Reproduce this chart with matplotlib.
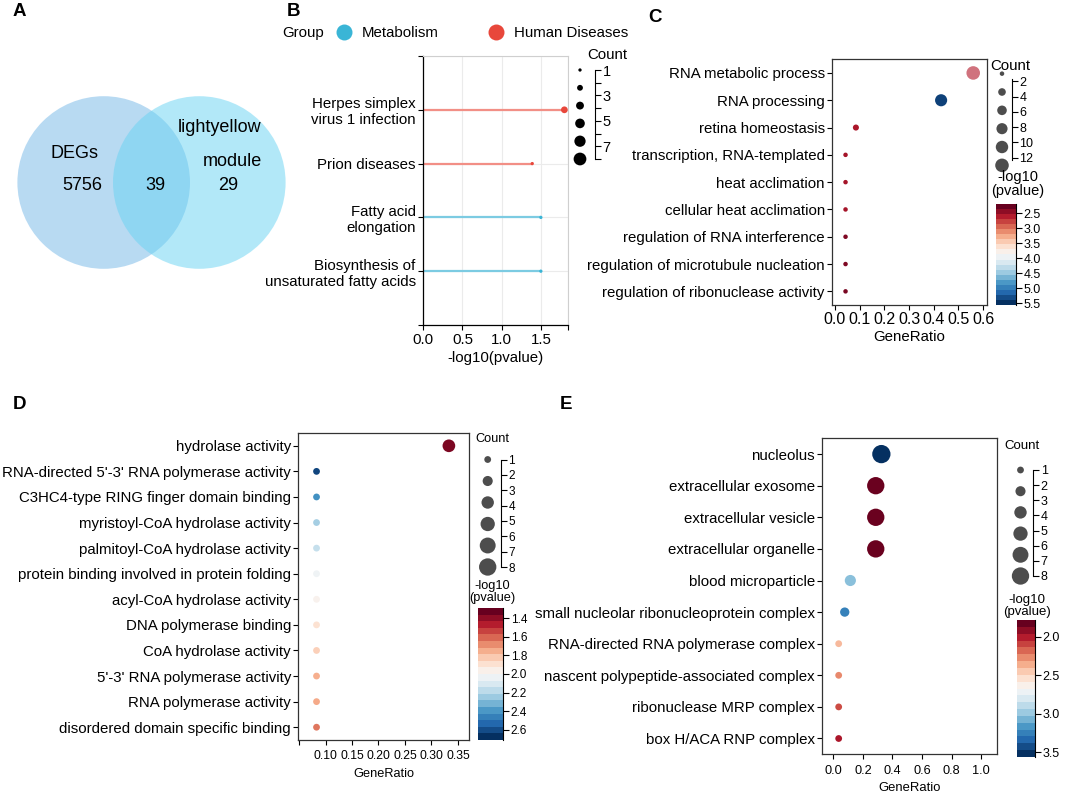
import numpy as np
import matplotlib
matplotlib.use('Agg')
import matplotlib.pyplot as plt
from matplotlib.patches import Circle
from matplotlib.lines import Line2D
from matplotlib.colors import Normalize
from matplotlib.cm import ScalarMappable

plt.rcParams['font.family'] = ['Liberation Sans', 'DejaVu Sans']

W, H = 1065, 794

# ---- A: Venn ----
venn_names = ['DEGs', 'lightyellow', 'module']
venn_counts = [5756, 39, 29]   # DEGs only, shared, module only

# ---- B: KEGG lollipop ----
kegg_terms = ['Herpes simplex\nvirus 1 infection', 'Prion diseases',
              'Fatty acid\nelongation', 'Biosynthesis of\nunsaturated fatty acids']
kegg_logp = [1.80, 1.39, 1.50, 1.50]
kegg_count = [3, 1, 1, 1]
kegg_group = ['Human Diseases', 'Human Diseases', 'Metabolism', 'Metabolism']
groups = ['Metabolism', 'Human Diseases']

# ---- C: GO BP ----
bp_terms = ['RNA metabolic process', 'RNA processing', 'retina homeostasis',
            'transcription, RNA-templated', 'heat acclimation', 'cellular heat acclimation',
            'regulation of RNA interference', 'regulation of microtubule nucleation',
            'regulation of ribonuclease activity']
bp_ratio = [0.56, 0.43, 0.085, 0.043, 0.043, 0.043, 0.043, 0.043, 0.043]
bp_count = [13, 10, 2, 1, 1, 1, 1, 1, 1]
bp_logp = [2.55, 5.45, 2.50, 2.47, 2.47, 2.47, 2.30, 2.30, 2.28]
bp_alpha = [0.62, 1, 1, 1, 1, 1, 1, 1, 1]

# ---- D: GO MF ----
mf_terms = ['hydrolase activity', "RNA-directed 5'-3' RNA polymerase activity",
            'C3HC4-type RING finger domain binding', 'myristoyl-CoA hydrolase activity',
            'palmitoyl-CoA hydrolase activity', 'protein binding involved in protein folding',
            'acyl-CoA hydrolase activity', 'DNA polymerase binding', 'CoA hydrolase activity',
            "5'-3' RNA polymerase activity", 'RNA polymerase activity',
            'disordered domain specific binding']
mf_ratio = [0.333, 0.083, 0.083, 0.083, 0.083, 0.083, 0.083, 0.083, 0.083, 0.083, 0.083, 0.083]
mf_count = [4, 1, 1, 1, 1, 1, 1, 1, 1, 1, 1, 1]
mf_logp = [1.33, 2.65, 2.43, 2.24, 2.17, 2.03, 1.97, 1.89, 1.83, 1.74, 1.73, 1.62]

# ---- E: GO CC ----
cc_terms = ['nucleolus', 'extracellular exosome', 'extracellular vesicle',
            'extracellular organelle', 'blood microparticle',
            'small nucleolar ribonucleoprotein complex', 'RNA-directed RNA polymerase complex',
            'nascent polypeptide-associated complex', 'ribonuclease MRP complex',
            'box H/ACA RNP complex']
cc_ratio = [0.325, 0.287, 0.287, 0.287, 0.115, 0.077, 0.036, 0.036, 0.036, 0.036]
cc_count = [9, 8, 8, 8, 3, 2, 1, 1, 1, 1]
cc_logp = [3.58, 1.79, 1.79, 1.79, 3.04, 3.27, 2.38, 2.24, 2.09, 1.94]


fig = plt.figure(figsize=(W / 100, H / 100), dpi=100)


def rect(x0, y0, x1, y1):
    # pixel box (top-left origin) -> figure fraction
    return [x0 / W, 1 - y1 / H, (x1 - x0) / W, (y1 - y0) / H]


def ftext(x, y, s, **kw):
    fig.text(x / W, 1 - y / H, s, **kw)


def dot_area(count, d1, p):
    # marker area in pt^2 for a dot d1*count**p pixels wide
    return (0.72 * d1 * np.asarray(count, float) ** p) ** 2


def dot_panel(box, terms, ratio, count, logp, norm, d1, p, xlim, xticks, xlabels, xfs, labfs,
              tpad=1.5, lpad=2, alpha=None):
    ax = fig.add_axes(rect(*box))
    y = np.arange(len(terms), 0, -1)
    ax.scatter(ratio, y, s=dot_area(count, d1, p), c=logp, cmap='RdBu', norm=norm,
               alpha=alpha, linewidths=0, zorder=3, clip_on=False)
    ax.set_xlim(*xlim)
    ax.set_ylim(0.5, len(terms) + 0.5)
    ax.set_yticks(y)
    ax.set_yticklabels(terms, fontsize=10.8)
    ax.set_xticks(xticks)
    ax.set_xticklabels(xlabels, fontsize=xfs)
    ax.set_xlabel('GeneRatio', fontsize=labfs, labelpad=lpad)
    ax.tick_params(length=3.5, width=0.8, pad=1.5)
    ax.tick_params(axis='x', pad=tpad)
    for s in ax.spines.values():
        s.set_linewidth(0.9)
        s.set_color('#333333')
    return ax


def count_legend(dot_x, line_x, y_top, y_bot, lim, keys, ticks, labels, d1, p,
                 color, title_xy, tfs, lfs):
    lax = fig.add_axes(rect(dot_x - 15, y_top, line_x, y_bot))
    lax.set_xlim(0, 1)
    lax.set_ylim(lim[1], lim[0])
    kx = 15 / (line_x - dot_x + 15)
    lax.scatter(np.full(len(keys), kx), keys, s=dot_area(keys, d1, p), color=color,
                linewidths=0, clip_on=False)
    for side in ['left', 'top', 'bottom']:
        lax.spines[side].set_visible(False)
    lax.spines['right'].set_linewidth(0.8)
    lax.patch.set_visible(False)
    lax.set_xticks([])
    lax.yaxis.tick_right()
    lax.set_yticks(ticks)
    lax.set_yticklabels(labels, fontsize=lfs)
    lax.tick_params(axis='y', length=4, width=0.8, pad=1.5)
    ftext(*title_xy, 'Count', ha='center', va='center', fontsize=tfs)


def color_bar(box, norm, ticks, fmt, fs, title_xy, tfs):
    cax = fig.add_axes(rect(*box))
    sm = ScalarMappable(norm=norm, cmap=plt.get_cmap('RdBu', 20))
    cb = fig.colorbar(sm, cax=cax)
    cb.outline.set_visible(False)
    cax.invert_yaxis()
    cb.set_ticks(ticks)
    cb.set_ticklabels([fmt.format(t) for t in ticks])
    cax.tick_params(labelsize=fs, length=4, width=0.8, pad=1.5)
    cax.axvline(1, color='black', lw=0.8, clip_on=False)
    ftext(*title_xy, '-log10\n(pvalue)', ha='center', va='center', fontsize=tfs,
          linespacing=0.95)


# panel letters
for letter, (x, y) in zip('ABCDE', [(19, 12), (293, 11), (655, 18), (19, 404), (566, 404)]):
    ftext(x, y, letter, ha='center', va='center', fontsize=13.5, fontweight='bold')

# ---------------- A ----------------
ax_a = fig.add_axes(rect(0, 40, 300, 330))
ax_a.set_xlim(0, 300)
ax_a.set_ylim(330, 40)
ax_a.axis('off')
ax_a.add_patch(Circle((103.7, 182.5), 86.3, fc='#72b6e7', alpha=0.5, lw=0))
ax_a.add_patch(Circle((199.3, 182.5), 86.3, fc='#67d3f3', alpha=0.5, lw=0))
vfs = 13
ax_a.text(74, 153, venn_names[0], ha='center', va='center', fontsize=vfs)
ax_a.text(220, 128, venn_names[1], ha='center', va='center', fontsize=vfs)
ax_a.text(232, 162, venn_names[2], ha='center', va='center', fontsize=vfs)
for (x, y), n in zip([(82, 185), (155, 185), (228, 185)], venn_counts):
    ax_a.text(x, y, str(n), ha='center', va='center', fontsize=vfs)

# ---------------- B ----------------
dot_col = {'Metabolism': '#3ab5d6', 'Human Diseases': '#e8473b'}
line_col = {'Metabolism': '#7ccbe2', 'Human Diseases': '#f28f86'}
ax_b = fig.add_axes(rect(423.3, 56, 568.3, 325))
yb = np.arange(len(kegg_terms), 0, -1)
ax_b.hlines(yb, 0, kegg_logp, colors=[line_col[g] for g in kegg_group], lw=1.6, zorder=2)
ax_b.scatter(kegg_logp, yb, s=dot_area(kegg_count, 3.3, 0.65),
             c=[dot_col[g] for g in kegg_group], linewidths=0, zorder=3, clip_on=False)
ax_b.set_xlim(0, 1.85)
ax_b.set_ylim(0, len(kegg_terms) + 1)
ax_b.set_xticks([0, 0.5, 1.0, 1.5, 1.85])
ax_b.set_xticklabels(['0.0', '0.5', '1.0', '1.5', ''], fontsize=10.8)
ax_b.set_yticks(np.arange(0, len(kegg_terms) + 2))
ax_b.set_yticklabels([''] + kegg_terms[::-1] + [''], fontsize=10.8, multialignment='right')
ax_b.grid(color='#ebebeb', lw=0.8, zorder=0)
ax_b.set_axisbelow(True)
ax_b.set_xlabel('-log10(pvalue)', fontsize=10.8, labelpad=3)
ax_b.tick_params(length=3.5, width=0.8, pad=2)
for side in ['top', 'right']:
    ax_b.spines[side].set_color('#cfcfcf')
    ax_b.spines[side].set_linewidth(0.8)
for side in ['left', 'bottom']:
    ax_b.spines[side].set_linewidth(0.9)

handles = [Line2D([], [], ls='', marker='o', ms=11.5, mew=0, color=dot_col[g]) for g in groups]
fig.legend(handles, groups, loc='center left', bbox_to_anchor=(336.5 / W, 1 - 33 / H), ncol=2,
           frameon=False, fontsize=10.8, handlelength=1.0, handletextpad=0.7,
           columnspacing=3.3, borderaxespad=0, borderpad=0)
ftext(282, 33, 'Group', ha='left', va='center', fontsize=10.8)

count_legend(580, 595, 70, 159, (1, 8), np.linspace(1, 8, 6), np.arange(1, 9),
             ['1', '', '3', '', '5', '', '7', ''], 3.3, 0.65, 'black', (607, 55), 10.8, 10.5)

# ---------------- C ----------------
norm_c = Normalize(2.19, 5.56)
dot_panel((831.7, 59.3, 987.3, 305), bp_terms, bp_ratio, bp_count, bp_logp, norm_c,
          4.5, 0.43, (-0.013, 0.617), np.arange(0, 0.61, 0.1),
          ['0.0', '0.1', '0.2', '0.3', '0.4', '0.5', '0.6'], 11.5, 10.8, alpha=bp_alpha)
count_legend(1002, 1011.7, 79, 160, (1.7, 12.3), np.linspace(1, 13, 6), np.arange(2, 13, 2),
             ['2', '4', '6', '8', '10', '12'], 4.5, 0.43, '#4d4d4d', (1010, 66), 10.8, 9)
color_bar((996, 204, 1016, 305), norm_c, np.arange(2.5, 5.6, 0.5), '{:.1f}', 9,
          (1018, 184), 10.5)

# ---------------- D ----------------
norm_d = Normalize(1.29, 2.71)
dot_panel((298, 433, 469, 740), mf_terms, mf_ratio, mf_count, mf_logp, norm_d,
          6.8, 0.45, (0.048, 0.371), np.arange(0.05, 0.36, 0.05),
          ['', '0.10', '0.15', '0.20', '0.25', '0.30', '0.35'], 8.8, 9.2, tpad=4, lpad=4)
count_legend(487.7, 500.7, 459.5, 567, (1, 8), np.linspace(1, 8, 6), np.arange(1, 9),
             [str(i) for i in range(1, 9)], 6.8, 0.45, '#4d4d4d', (492, 439), 9.2, 8.5)
color_bar((478, 608, 503, 740), norm_d, np.arange(1.4, 2.61, 0.2), '{:.1f}', 8.5,
          (492, 592), 9.2)

# ---------------- E ----------------
norm_e = Normalize(1.78, 3.56)
dot_panel((821.7, 438.3, 997, 754.3), cc_terms, cc_ratio, cc_count, cc_logp, norm_e,
          6.8, 0.45, (-0.079, 1.108), np.arange(0, 1.01, 0.2),
          ['0.0', '0.2', '0.4', '0.6', '0.8', '1.0'], 9.2, 9.4, tpad=4, lpad=4)
count_legend(1020.5, 1033, 470, 576, (1, 8), np.linspace(1, 8, 6), np.arange(1, 9),
             [str(i) for i in range(1, 9)], 6.8, 0.45, '#4d4d4d', (1022, 446), 9.5, 9)
color_bar((1017, 620, 1035, 757), norm_e, np.arange(2.0, 3.51, 0.5), '{:.1f}', 9,
          (1027, 606), 9.5)

fig.savefig('out.png', dpi=100)
